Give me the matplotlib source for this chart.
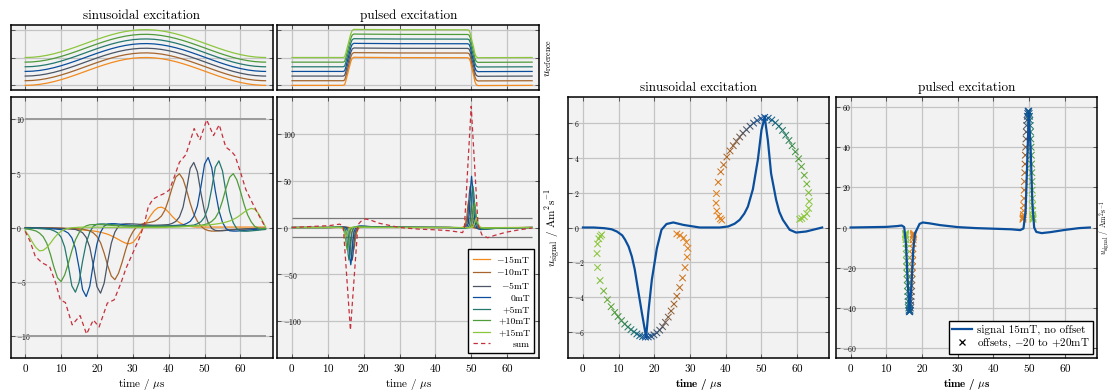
"""
Sinusoidal vs pulsed excitation: reference fields, particle signals and
peak positions for a range of offset fields.
"""
import numpy as np
import matplotlib
matplotlib.use("Agg")
import matplotlib.pyplot as plt
from matplotlib.colors import LinearSegmentedColormap
from matplotlib.lines import Line2D

plt.rcParams["font.family"] = ["cmr10", "DejaVu Serif"]
plt.rcParams["mathtext.fontset"] = "cm"
plt.rcParams["axes.formatter.use_mathtext"] = True
plt.rcParams["axes.unicode_minus"] = True

# ── Data ─────────────────────────────────────────────────────────────────────
offsets_mT = [-15, -10, -5, 0, 5, 10, 15]
offset_labels = [r"$-$15mT", r"$-$10mT", r"$-$5mT", "0mT", "+5mT", "+10mT", "+15mT"]

# reference field (mT) without offset
ref_sine_t = [0, 2, 4, 6, 8, 10, 12, 14, 16, 18, 20, 22, 24, 26, 28, 30, 32, 34,
              36, 38, 40, 42, 44, 46, 48, 50, 52, 54, 56, 58, 60, 62, 64, 66, 67]
ref_sine = [-15.00, -14.74, -13.96, -12.69, -10.98, -8.87, -6.46, -3.83, -1.05,
            1.76, 4.50, 7.09, 9.43, 11.44, 13.05, 14.20, 14.85, 14.98, 14.59,
            13.68, 12.30, 10.48, 8.30, 5.82, 3.14, 0.35, -2.45, -5.17, -7.70,
            -9.97, -11.88, -13.38, -14.41, -14.93, -15.00]

ref_pulse_t = [0, 14.3, 14.7, 15.0, 15.4, 15.7, 16.0, 16.4, 16.8, 17.3, 18.1, 30.0,
               49.0, 49.4, 49.8, 50.1, 50.4, 50.7, 51.0, 51.4, 51.9, 52.7, 67]
ref_pulse = [-15, -15, -14.2, -10.5, -4.5, 0, 4.5, 10.5, 14.2, 15.3, 15.2, 14.9,
             14.8, 14.2, 10.5, 4.5, 0, -4.5, -10.5, -14.2, -15.3, -15.2, -15]

# sinusoidal excitation: signal per offset, sampled every 1 µs (0..67 µs)
time_s = np.arange(68)
sine_m15 = [0.00, 0.00, -0.01, -0.01, -0.02, -0.02, -0.03, -0.04, -0.05, -0.06,
            -0.07, -0.09, -0.11, -0.13, -0.16, -0.19, -0.22, -0.25, -0.28, -0.32,
            -0.37, -0.44, -0.52, -0.62, -0.76, -0.92, -1.10, -1.29, -1.44, -1.50,
            -1.38, -1.00, -0.50, 0.05, 0.60, 1.12, 1.55, 1.82, 1.87, 1.72,
            1.40, 1.02, 0.70, 0.45, 0.28, 0.17, 0.10, 0.06, 0.04, 0.04,
            0.04, 0.04, 0.04, 0.04, 0.04, 0.04, 0.04, 0.04, 0.04, 0.04,
            0.04, 0.04, 0.04, 0.04, 0.04, 0.04, 0.04, 0.04]
sine_m10 = [-0.02, -0.02, -0.03, -0.03, -0.03, -0.04, -0.04, -0.05, -0.05, -0.06,
            -0.06, -0.07, -0.08, -0.09, -0.11, -0.13, -0.15, -0.23, -0.31, -0.50,
            -0.82, -1.39, -2.35, -3.50, -4.46, -4.80, -4.22, -3.22, -2.06, -1.03,
            -0.40, 0.04, 0.25, 0.37, 0.42, 0.49, 0.57, 0.76, 1.06, 1.63,
            2.59, 3.70, 4.65, 4.94, 4.45, 3.43, 2.23, 1.24, 0.58, 0.13,
            -0.15, -0.28, -0.33, -0.33, -0.30, -0.27, -0.24, -0.21, -0.19, -0.17,
            -0.15, -0.14, -0.13, -0.12, -0.11, -0.10, -0.10, -0.09]
sine_m5 = [-0.02, -0.02, -0.03, -0.03, -0.04, -0.04, -0.05, -0.05, -0.06, -0.07,
           -0.08, -0.10, -0.12, -0.15, -0.18, -0.30, -0.48, -0.91, -1.81, -3.50,
           -5.44, -6.04, -5.13, -3.14, -1.45, -0.42, 0.12, 0.30, 0.34, 0.34,
           0.33, 0.31, 0.29, 0.26, 0.24, 0.22, 0.21, 0.22, 0.23, 0.25,
           0.27, 0.38, 0.56, 0.97, 1.86, 3.53, 5.44, 5.98, 5.13, 3.16,
           1.48, 0.46, -0.08, -0.27, -0.30, -0.30, -0.27, -0.24, -0.21, -0.19,
           -0.16, -0.13, -0.11, -0.10, -0.09, -0.09, -0.08, -0.07]
sine_0 = [-0.04, -0.04, -0.05, -0.06, -0.06, -0.08, -0.09, -0.11, -0.13, -0.16,
          -0.19, -0.32, -0.51, -0.95, -1.91, -3.68, -5.72, -6.35, -5.40, -3.30,
          -1.52, -0.44, 0.13, 0.32, 0.35, 0.35, 0.32, 0.29, 0.25, 0.22,
          0.19, 0.17, 0.16, 0.15, 0.15, 0.15, 0.14, 0.14, 0.15, 0.15,
          0.16, 0.18, 0.19, 0.22, 0.24, 0.37, 0.56, 1.01, 1.97, 3.77,
          5.83, 6.44, 5.50, 3.37, 1.57, 0.47, -0.11, -0.30, -0.33, -0.33,
          -0.30, -0.27, -0.24, -0.21, -0.18, -0.15, -0.13, -0.12]
sine_p5 = [-0.05, -0.06, -0.07, -0.08, -0.10, -0.12, -0.15, -0.18, -0.30, -0.48,
           -0.89, -1.79, -3.45, -5.36, -5.95, -5.06, -3.09, -1.43, -0.42, 0.12,
           0.30, 0.33, 0.33, 0.30, 0.27, 0.24, 0.21, 0.18, 0.15, 0.14,
           0.14, 0.13, 0.12, 0.11, 0.11, 0.11, 0.11, 0.11, 0.11, 0.11,
           0.11, 0.12, 0.12, 0.14, 0.15, 0.17, 0.19, 0.22, 0.34, 0.53,
           0.95, 1.87, 3.59, 5.55, 6.13, 5.21, 3.19, 1.47, 0.43, -0.12,
           -0.31, -0.34, -0.34, -0.31, -0.28, -0.25, -0.21, -0.18]
sine_p10 = [-0.13, -0.16, -0.23, -0.32, -0.52, -0.84, -1.44, -2.44, -3.63, -4.62,
            -4.97, -4.37, -3.33, -2.14, -1.14, -0.50, -0.05, 0.15, 0.25, 0.27,
            0.27, 0.26, 0.25, 0.22, 0.20, 0.18, 0.17, 0.15, 0.14, 0.13,
            0.14, 0.13, 0.12, 0.12, 0.11, 0.11, 0.11, 0.11, 0.11, 0.11,
            0.11, 0.11, 0.11, 0.11, 0.12, 0.13, 0.14, 0.15, 0.17, 0.20,
            0.27, 0.36, 0.56, 0.88, 1.46, 2.45, 3.64, 4.62, 4.95, 4.38,
            3.34, 2.15, 1.17, 0.52, 0.10, -0.06, -0.10, -0.10]
sine_p15 = [-0.30, -0.75, -1.35, -1.85, -2.15, -2.10, -1.85, -1.45, -1.00, -0.62,
            -0.35, -0.18, -0.08, -0.02, 0.00, 0.02, 0.03, 0.03, 0.03, 0.03,
            0.03, 0.03, 0.02, 0.02, 0.02, 0.02, 0.01, 0.01, 0.01, 0.00,
            0.00, 0.00, 0.00, 0.00, 0.00, 0.00, 0.00, 0.00, 0.01, 0.01,
            0.02, 0.03, 0.04, 0.05, 0.07, 0.09, 0.11, 0.13, 0.15, 0.17,
            0.20, 0.23, 0.27, 0.31, 0.36, 0.42, 0.50, 0.60, 0.74, 0.92,
            1.15, 1.40, 1.62, 1.75, 1.68, 1.30, 0.70, 0.05]

sine_sum_t = [0, 1.4, 2.8, 4.7, 6.8, 8.4, 9.8, 11.2, 13.1, 15.3, 17.1, 19.0, 20.6,
              22.9, 24.8, 26.7, 28.1, 30.4, 31.8, 33.2, 34.3, 35.6, 37.2, 38.6,
              40.2, 41.5, 43.0, 44.8, 47.1, 48.7, 50.6, 52.5, 54.1, 55.9, 57.5,
              58.5, 60.1, 61.5, 63.8, 65.5, 67.0]
sine_sum = [-0.35, -1.3, -2.65, -3.25, -3.6, -5.0, -6.65, -6.9, -8.95, -8.1, -9.8,
            -8.5, -9.15, -6.95, -6.65, -5.1, -3.75, -2.05, -1.0, 0.3, 1.9, 2.6,
            2.9, 3.1, 3.45, 4.6, 6.0, 6.7, 9.1, 8.05, 9.9, 8.45, 9.45, 7.4, 7.0,
            6.6, 5.0, 3.5, 1.95, 0.9, 0.0]

# pulsed excitation: signal per offset (knots in µs)
pls_t_m15 = [0, 11.6, 15.6, 16.2, 16.7, 17.05, 17.35, 17.6, 17.85, 18.15, 18.5, 19.0,
             20.1, 22.1, 25.6, 42.9, 46.9, 47.5, 48.0, 48.35, 48.65, 48.9, 49.15,
             49.45, 49.8, 50.3, 51.4, 53.4, 56.9, 67]
pls_y_m15 = [0, 0, 0.12, 0, -0.8, -3.5, -8.0, -10, -8.2, -4.2, -1.2, 0, 0.4, 0.3,
             0.1, 0, -0.14, 0, 0.96, 4.2, 9.6, 12, 9.8, 5.0, 1.4, 0, -0.48, -0.36,
             -0.12, 0]
pls_t_m10 = [0, 11.2, 15.2, 15.8, 16.3, 16.65, 16.95, 17.2, 17.45, 17.75, 18.1, 18.6,
             19.7, 21.7, 25.2, 43.3, 47.3, 47.9, 48.4, 48.75, 49.05, 49.3, 49.55,
             49.85, 50.2, 50.7, 51.8, 53.8, 57.3, 67]
pls_y_m10 = [0, 0, 0.3, 0, -1.9, -8.4, -19.2, -24, -19.7, -10.1, -2.9, 0, 0.96,
             0.72, 0.24, 0, -0.35, 0, 2.3, 10.2, 23.2, 29, 23.8, 12.2, 3.5, 0,
             -1.16, -0.87, -0.29, 0]
pls_t_m5 = [0, 10.8, 14.8, 15.4, 15.9, 16.25, 16.55, 16.8, 17.05, 17.35, 17.7, 18.2,
            19.3, 21.3, 24.8, 43.7, 47.7, 48.3, 48.8, 49.15, 49.45, 49.7, 49.95,
            50.25, 50.6, 51.1, 52.2, 54.2, 57.7, 67]
pls_y_m5 = [0, 0, 0.42, 0, -2.8, -12.3, -28, -35, -28.7, -14.7, -4.2, 0, 1.4, 1.05,
            0.35, 0, -0.53, 0, 3.5, 15.4, 35.2, 44, 36.1, 18.5, 5.3, 0, -1.76,
            -1.32, -0.44, 0]
pls_t_0 = [0, 10.4, 14.4, 15.0, 15.5, 15.85, 16.15, 16.4, 16.65, 16.95, 17.3, 17.8,
           18.9, 20.9, 24.4, 44.1, 48.1, 48.7, 49.2, 49.55, 49.85, 50.1, 50.35,
           50.65, 51.0, 51.5, 52.6, 54.6, 58.1, 67]
pls_y_0 = [0, 0, 0.5, 0, -3.2, -14, -32, -40, -32.8, -16.8, -4.8, 0, 1.6, 1.2, 0.4,
           0, -0.66, 0, 4.4, 19.3, 44, 55, 45.1, 23.1, 6.6, 0, -2.2, -1.65, -0.55, 0]
pls_t_p5 = [0, 9.9, 13.9, 14.5, 15.0, 15.35, 15.65, 15.9, 16.15, 16.45, 16.8, 17.3,
            18.4, 20.4, 23.9, 44.5, 48.5, 49.1, 49.6, 49.95, 50.25, 50.5, 50.75,
            51.05, 51.4, 51.9, 53.0, 55.0, 58.5, 67]
pls_y_p5 = [0, 0, 0.42, 0, -2.8, -12.3, -28, -35, -28.7, -14.7, -4.2, 0, 1.4, 1.05,
            0.35, 0, -0.53, 0, 3.5, 15.4, 35.2, 44, 36.1, 18.5, 5.3, 0, -1.76,
            -1.32, -0.44, 0]
pls_t_p10 = [0, 9.4, 13.4, 14.0, 14.5, 14.85, 15.15, 15.4, 15.65, 15.95, 16.3, 16.8,
             17.9, 19.9, 23.4, 44.9, 48.9, 49.5, 50.0, 50.35, 50.65, 50.9, 51.15,
             51.45, 51.8, 52.3, 53.4, 55.4, 58.9, 67]
pls_y_p10 = [0, 0, 0.3, 0, -1.9, -8.4, -19.2, -24, -19.7, -10.1, -2.9, 0, 0.96,
             0.72, 0.24, 0, -0.32, 0, 2.2, 9.5, 21.6, 27, 22.1, 11.3, 3.2, 0, -1.1,
             -0.8, -0.27, 0]
pls_t_p15 = [0, 9.0, 13.0, 13.6, 14.1, 14.45, 14.75, 15.0, 15.25, 15.55, 15.9, 16.4,
             17.5, 19.5, 23.0, 45.4, 49.4, 50.0, 50.5, 50.85, 51.15, 51.4, 51.65,
             51.95, 52.3, 52.8, 53.9, 55.9, 59.4, 67]
pls_y_p15 = [0, 0, 0.12, 0, -0.8, -3.5, -8.0, -10, -8.2, -4.2, -1.2, 0, 0.4, 0.3,
             0.1, 0, -0.12, 0, 0.8, 3.5, 8.0, 10, 8.2, 4.2, 1.2, 0, -0.4, -0.3,
             -0.1, 0]

pls_sum_t = [0, 5, 10.4, 13.3, 14.3, 16.3, 18.4, 19.2, 20.5, 22.0, 24.4, 30, 35.5,
             40.2, 44, 47.6, 48.1, 50.0, 51.9, 53.0, 54.6, 56.5, 59.8, 63.4, 67]
pls_sum = [0, 1.0, 2.0, 3.6, 1.5, -110, 3, 6.5, 9.2, 7.8, 4.5, 0, -1.8, -2.5, -3.5,
           -5.5, 0, 130, 3, -8, -11, -8.5, -5, -2.5, -0.5]

# signal at 15 mT drive amplitude, no offset
sig_sine_t = [0, 3, 6, 8, 9.5, 11, 11.8, 12.8, 13.7, 14.5, 15.3, 16.5, 17.7, 18.3,
              19.3, 20.7, 22.0, 23.4, 25.3, 28.1, 32.7, 38.3, 40.7, 42.5, 43.9,
              45.2, 46.2, 47.6, 49.0, 50.0, 50.9, 51.8, 52.7, 54.1, 55.0, 56.0,
              57.9, 59.7, 62.5, 67]
sig_sine = [0, 0, -0.04, -0.1, -0.23, -0.45, -0.7, -1.1, -1.67, -2.4, -3.4, -4.9,
            -6.3, -4.9, -3.0, -1.2, -0.13, 0.2, 0.29, 0.15, 0.0, 0.0, 0.06, 0.22,
            0.44, 0.8, 1.2, 2.2, 3.9, 5.6, 6.35, 5.0, 3.1, 1.6, 0.9, 0.44, -0.13,
            -0.29, -0.23, 0]
sig_pulse_t = [0, 10, 13, 14.3, 15.0, 15.5, 16.0, 16.5, 17.0, 17.5, 18.0, 18.6,
               19.3, 20.2, 22, 25, 30, 35, 40, 45, 47.5, 48.4, 49.0, 49.5, 49.9,
               50.4, 50.9, 51.4, 52.0, 53.5, 56, 60, 64, 67]
sig_pulse = [0, 0.3, 0.7, 1.0, 0.2, -8, -28, -41, -30, -12, -3, -0.8, 1.8, 2.5,
             2.1, 1.2, 0.2, -0.3, -0.6, -0.9, -1.3, -0.5, 8, 35, 57, 40, 12, 0,
             -2.2, -2.8, -2.3, -1.2, -0.3, 0]

# signal peaks for offsets -20 ... +20 mT (1 mT steps)
peak_offsets = list(range(-20, 21))
sine_neg_t = [26.3, 27.2, 28.2, 29.0, 29.4, 29.2, 28.6, 27.9, 27.1, 26.3, 25.5,
              24.7, 23.9, 23.1, 22.3, 21.5, 20.7, 19.9, 19.1, 18.3, 17.5, 16.7,
              15.9, 15.1, 14.3, 13.45, 12.6, 11.7, 10.8, 9.85, 8.9, 7.9, 6.85,
              5.8, 4.8, 4.1, 3.95, 4.1, 4.45, 4.85, 5.25]
sine_neg_y = [-0.37, -0.45, -0.6, -0.85, -1.2, -1.7, -2.3, -2.9, -3.45, -3.95,
              -4.4, -4.8, -5.15, -5.45, -5.7, -5.9, -6.05, -6.17, -6.25, -6.29,
              -6.3, -6.27, -6.22, -6.12, -6.0, -5.87, -5.72, -5.55, -5.35, -5.12,
              -4.88, -4.55, -4.15, -3.65, -3.05, -2.3, -1.5, -0.95, -0.65, -0.5,
              -0.42]
sine_pos_t = [38.9, 38.5, 38.0, 37.5, 37.3, 37.4, 37.9, 38.6, 39.4, 40.3, 41.2,
              42.1, 43.0, 43.9, 44.8, 45.8, 46.8, 47.8, 48.8, 49.9, 50.9, 51.9,
              52.9, 53.9, 54.9, 55.9, 56.8, 57.7, 58.6, 59.5, 60.4, 61.2, 62.0,
              62.7, 63.2, 63.4, 63.2, 62.7, 62.0, 61.3, 60.7]
sine_pos_y = [0.42, 0.5, 0.65, 0.95, 1.4, 1.95, 2.6, 3.2, 3.6, 4.05, 4.4, 4.7,
              4.95, 5.2, 5.42, 5.62, 5.82, 6.0, 6.15, 6.26, 6.33, 6.28, 6.18, 6.02,
              5.82, 5.58, 5.3, 5.0, 4.7, 4.35, 3.95, 3.5, 3.0, 2.5, 2.0, 1.5, 1.1,
              0.8, 0.62, 0.52, 0.47]
pulse_neg_t = [17.65, 17.62, 17.59, 17.56, 17.52, 17.48, 17.43, 17.38, 17.33, 17.27,
               17.21, 17.15, 17.08, 17.01, 16.94, 16.87, 16.8, 16.72, 16.65, 16.57,
               16.5, 16.43, 16.35, 16.28, 16.2, 16.13, 16.06, 15.99, 15.92, 15.85,
               15.79, 15.73, 15.67, 15.62, 15.57, 15.52, 15.48, 15.44, 15.41,
               15.38, 15.35]
pulse_neg_y = [-2.9, -3.4, -3.8, -4.6, -6.1, -8.0, -10.5, -13.4, -16.6, -19.7,
               -22.9, -26.0, -29.0, -31.9, -34.4, -36.8, -38.6, -40.1, -41.2, -41.8,
               -42.0, -41.8, -41.2, -40.1, -38.6, -36.8, -34.4, -31.9, -29.0, -26.0,
               -22.9, -19.7, -16.6, -13.4, -10.5, -8.0, -6.1, -4.6, -3.8, -3.4, -2.9]
pulse_pos_t = [48.25, 48.29, 48.33, 48.38, 48.43, 48.49, 48.55, 48.62, 48.69, 48.77,
               48.85, 48.93, 49.02, 49.11, 49.2, 49.3, 49.4, 49.5, 49.6, 49.7, 49.8,
               49.9, 50.0, 50.1, 50.2, 50.3, 50.38, 50.46, 50.54, 50.61, 50.68,
               50.74, 50.8, 50.85, 50.9, 50.94, 50.98, 51.02, 51.05, 51.08, 51.1]
pulse_pos_y = [4.1, 4.6, 5.2, 6.4, 8.4, 11.0, 14.5, 18.6, 22.9, 27.3, 31.6, 36.0,
               40.0, 44.1, 47.6, 50.8, 53.4, 55.4, 56.8, 57.7, 58.0, 57.7, 56.8,
               55.4, 53.4, 50.8, 47.6, 44.1, 40.0, 36.0, 31.6, 27.3, 22.9, 18.6,
               14.5, 11.0, 8.4, 6.4, 5.2, 4.6, 4.1]

# ── Style ────────────────────────────────────────────────────────────────────
BG = "#f2f2f2"
GRID = "#c4c4c4"
SUM_RED = "#c5303c"
BLUE = "#0b4f9c"
COLORS = ["#f28a1e", "#a5652c", "#4b5566", BLUE, "#24786e", "#4f9b3a", "#8cc63e"]
XLIM = (-4.1, 69.0)
XTICKS = [0, 10, 20, 30, 40, 50, 60]
XLABEL = r"time / $\mu$s"
BOLD = dict(family=["cmb10", "DejaVu Serif"], fontweight="bold")

cmap = LinearSegmentedColormap.from_list("offsets", [
    (0.0, "#e0801e"), (0.125, "#e0801e"), (0.25, "#a5652c"), (0.375, "#4b5566"),
    (0.5, BLUE), (0.625, "#24786e"), (0.75, "#4f9b3a"), (0.875, "#8cc63e"),
    (1.0, "#8cc63e")])

W, H = 1110, 391
fig = plt.figure(figsize=(W / 100, H / 100), dpi=100)


def axes_px(x0, y0, x1, y1):
    return fig.add_axes([x0 / W, 1 - y1 / H, (x1 - x0) / W, (y1 - y0) / H])


def style_axes(ax, yticks, ylim, labels=True):
    ax.set_facecolor(BG)
    ax.set_xlim(XLIM)
    ax.set_ylim(ylim)
    ax.set_xticks(XTICKS)
    ax.set_yticks(yticks)
    ax.grid(True, color=GRID, lw=0.9)
    ax.set_axisbelow(True)
    ax.tick_params(which="both", direction="in", top=True, right=True,
                   length=3, width=0.6, color="#444444")
    ax.tick_params(axis="x", labelsize=8, pad=3, labelbottom=labels)
    ax.tick_params(axis="y", labelsize=5.5, pad=-4, labelleft=labels)
    if labels:
        for lab in ax.get_yticklabels():
            lab.set_horizontalalignment("left")
    for sp in ax.spines.values():
        sp.set_linewidth(1.1)


ax_rs = axes_px(10.5, 25, 272.7, 90)
ax_rp = axes_px(277.3, 25, 539.3, 90)
ax_ss = axes_px(10.5, 97, 272.7, 358)
ax_sp = axes_px(277.3, 97, 539.3, 358)
ax_ks = axes_px(568.3, 97, 829.3, 358)
ax_kp = axes_px(836, 97, 1097, 358)

# ── Reference fields ────────────────────────────────────────────────────────
for ax, tt, base in [(ax_rs, ref_sine_t, ref_sine), (ax_rp, ref_pulse_t, ref_pulse)]:
    style_axes(ax, [-30, 0, 30], (-35, 35), labels=False)
    for off, col in zip(offsets_mT, COLORS):
        ax.plot(tt, np.array(base) + off, color=col, lw=0.9)
ax_rs.set_title("sinusoidal excitation", fontsize=9.5, pad=4)
ax_rp.set_title("pulsed excitation", fontsize=9.5, pad=4)
ax_rp.yaxis.set_label_position("right")
ax_rp.set_ylabel(r"$u_\mathrm{reference}$", fontsize=8, labelpad=3)

# ── Signals ─────────────────────────────────────────────────────────────────
style_axes(ax_ss, [-10, -5, 0, 5, 10], (-12, 12))
ax_ss.hlines([-10, 10], 0, 67, color="#9a9a9a", lw=1.4, zorder=1)
for ys, col in zip([sine_m15, sine_m10, sine_m5, sine_0, sine_p5, sine_p10, sine_p15],
                   COLORS):
    ax_ss.plot(time_s, ys, color=col, lw=0.9)
ax_ss.plot(sine_sum_t, sine_sum, color=SUM_RED, lw=0.9, dashes=(3.5, 2.5))
ax_ss.set_xlabel(XLABEL, fontsize=8, labelpad=2)

style_axes(ax_sp, [-100, -50, 0, 50, 100], (-140, 140))
ax_sp.hlines([-10, 10], 0, 67, color="#7a7a7a", lw=0.9, zorder=1)
pulse_curves = [(pls_t_m15, pls_y_m15), (pls_t_m10, pls_y_m10), (pls_t_m5, pls_y_m5),
                (pls_t_0, pls_y_0), (pls_t_p5, pls_y_p5), (pls_t_p10, pls_y_p10),
                (pls_t_p15, pls_y_p15)]
handles = []
for (tt, ys), col in zip(pulse_curves, COLORS):
    handles.append(ax_sp.plot(tt, ys, color=col, lw=0.9)[0])
handles.append(ax_sp.plot(pls_sum_t, pls_sum, color=SUM_RED, lw=0.9,
                          dashes=(3.5, 2.5))[0])
ax_sp.set_xlabel(XLABEL, fontsize=8, labelpad=2)
ax_sp.yaxis.set_label_position("right")
ax_sp.set_ylabel(r"$u_\mathrm{signal}$ / Am$^2$s$^{-1}$", fontsize=8, labelpad=3)

leg = ax_sp.legend(handles, offset_labels + ["sum"], loc="lower right", fontsize=7,
                   fancybox=False, edgecolor="black", framealpha=1,
                   borderpad=0.45, labelspacing=0.28, handlelength=1.8,
                   handletextpad=0.6, borderaxespad=0.5)
leg.get_frame().set_linewidth(1.0)
# right-align the legend labels
renderer = fig.canvas.get_renderer()
widths = [t.get_window_extent(renderer).width for t in leg.get_texts()]
for t, w in zip(leg.get_texts(), widths):
    t.set_position((max(widths) - w, 0))

# ── Peak positions ──────────────────────────────────────────────────────────
style_axes(ax_ks, [-6, -4, -2, 0, 2, 4, 6], (-7.5, 7.5))
ax_ks.scatter(sine_neg_t + sine_pos_t, sine_neg_y + sine_pos_y,
              c=peak_offsets + peak_offsets, cmap=cmap, vmin=-20, vmax=20,
              marker="x", s=22, linewidths=0.75, zorder=2)
ax_ks.plot(sig_sine_t, sig_sine, color=BLUE, lw=1.6, zorder=3)
ax_ks.set_title("sinusoidal excitation", fontsize=9.5, pad=4)
ax_ks.set_xlabel(XLABEL, fontsize=8, labelpad=2, **BOLD)

style_axes(ax_kp, [-60, -40, -20, 0, 20, 40, 60], (-65, 65))
ax_kp.scatter(pulse_neg_t + pulse_pos_t, pulse_neg_y + pulse_pos_y,
              c=peak_offsets + peak_offsets, cmap=cmap, vmin=-20, vmax=20,
              marker="x", s=22, linewidths=0.75, zorder=2)
ax_kp.plot(sig_pulse_t, sig_pulse, color=BLUE, lw=1.6, zorder=3)
ax_kp.set_title("pulsed excitation", fontsize=9.5, pad=4)
ax_kp.set_xlabel(XLABEL, fontsize=8, labelpad=2, **BOLD)
ax_kp.yaxis.set_label_position("right")
ax_kp.set_ylabel(r"$u_\mathrm{signal}$ / Am$^2$s$^{-1}$", fontsize=5.5)
ax_kp.yaxis.set_label_coords(1.0, 0.5)

leg2 = ax_kp.legend([Line2D([], [], color=BLUE, lw=1.6),
                     Line2D([], [], ls="none", marker="x", color="black",
                            markersize=4.5, markeredgewidth=0.9)],
                    ["signal 15mT, no offset", r"offsets, $-$20 to +20mT"],
                    loc="lower right", fontsize=8, fancybox=False,
                    edgecolor="black", framealpha=1, borderpad=0.3,
                    labelspacing=0.2, handlelength=1.8, handletextpad=0.4,
                    borderaxespad=0.4)
leg2.get_frame().set_linewidth(1.0)

fig.savefig("out.png", dpi=100, facecolor="white")
